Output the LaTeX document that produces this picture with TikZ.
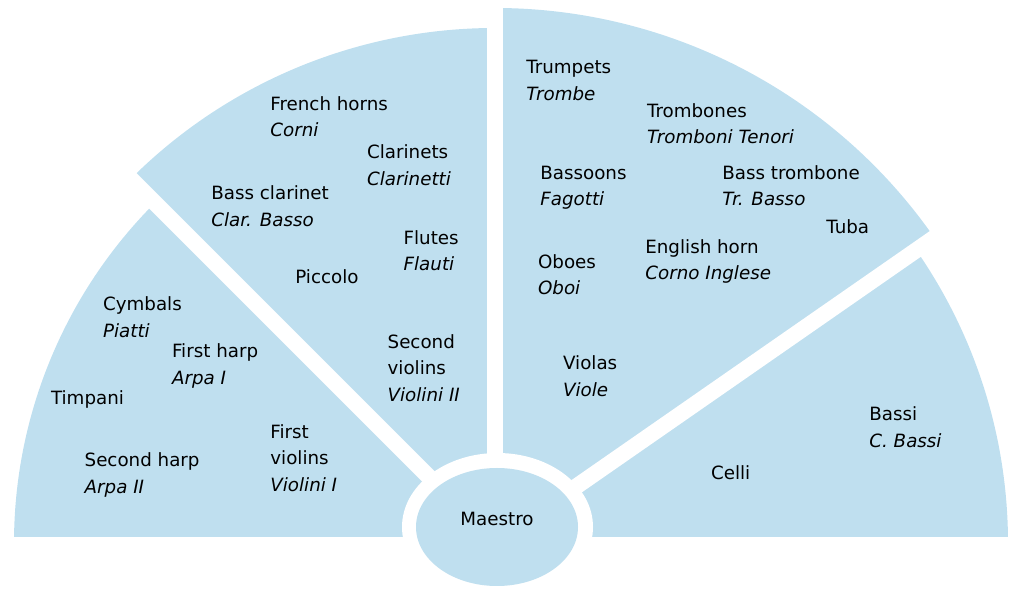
\documentclass[tikz,border=0pt]{standalone}
\usepackage{fontspec}
\setmainfont{DejaVu Sans}[ItalicFont={DejaVu Sans Oblique}]
\definecolor{seatblue}{RGB}{191,223,239}

\begin{document}
\begin{tikzpicture}[x=0.02cm, y=0.02cm,
    seat/.style={fill=seatblue},
    gap/.style={white, line width=0.32cm},
    lbl/.style={anchor=base west, inner sep=0pt, align=left,
                font=\fontsize{10.4}{15.2}\selectfont}]
\useasboundingbox (0,0) rectangle (1024,608);

\begin{scope}
\clip (0,71) rectangle (1024,608);
\fill[seat] (495,65) -- ++(180:481) arc (180:135:481) -- cycle;
\fill[seat] (495,65) -- ++(135:515) arc (135:90:515) -- cycle;
\fill[seat] (495,65) -- ++(90:535) arc (90:34.8:535) -- cycle;
\fill[seat] (495,65) -- ++(34.8:513) arc (34.8:0:513) -- cycle;
\end{scope}

\coordinate (c) at (495,65);
\foreach \a in {135, 90, 34.8}
\draw[gap] (c) -- ++(\a:600);

\fill[white] (497.5,81) ellipse (95.5 and 74);
\fill[seat] (497,81) ellipse (81 and 59);
\node[anchor=base, inner sep=0pt, font=\fontsize{10.4}{15.2}\selectfont] (maestro) at (497,82) {Maestro};

\node[lbl] (timpani) at (50.7,203.7) {Timpani};
\node[lbl] (cymbals) at (102.7,270.3) {Cymbals\\\textit{Piatti}};
\node[lbl] (firstharp) at (171.7,223.6) {First harp\\\textit{Arpa I}};
\node[lbl] (secondharp) at (84.3,114.6) {Second harp\\\textit{Arpa II}};
\node[lbl] (firstviolins) at (270,116.3) {First\\violins\\\textit{Violini I}};

\node[lbl] (frenchhorns) at (270,471) {French horns\\\textit{Corni}};
\node[lbl] (clarinets) at (366.7,422.3) {Clarinets\\\textit{Clarinetti}};
\node[lbl] (bassclarinet) at (211,381.3) {Bass clarinet\\\textit{Clar. Basso}};
\node[lbl] (flutes) at (403.3,337) {Flutes\\\textit{Flauti}};
\node[lbl] (piccolo) at (295,324) {Piccolo};
\node[lbl] (secondviolins) at (387.3,206.3) {Second\\violins\\\textit{Violini II}};

\node[lbl] (trumpets) at (526,507.3) {Trumpets\\\textit{Trombe}};
\node[lbl] (trombones) at (646.7,464) {Trombones\\\textit{Tromboni Tenori}};
\node[lbl] (bassoons) at (540,402) {Bassoons\\\textit{Fagotti}};
\node[lbl] (basstrombone) at (722,402) {Bass trombone\\\textit{Tr. Basso}};
\node[lbl] (tuba) at (826,374) {Tuba};
\node[lbl] (englishhorn) at (645,328) {English horn\\\textit{Corno Inglese}};
\node[lbl] (oboes) at (537.7,313) {Oboes\\\textit{Oboi}};
\node[lbl] (violas) at (562.7,211.3) {Violas\\\textit{Viole}};

\node[lbl] (bassi) at (869,160.3) {Bassi\\\textit{C. Bassi}};
\node[lbl] (celli) at (710.7,128) {Celli};
\end{tikzpicture}
\end{document}
